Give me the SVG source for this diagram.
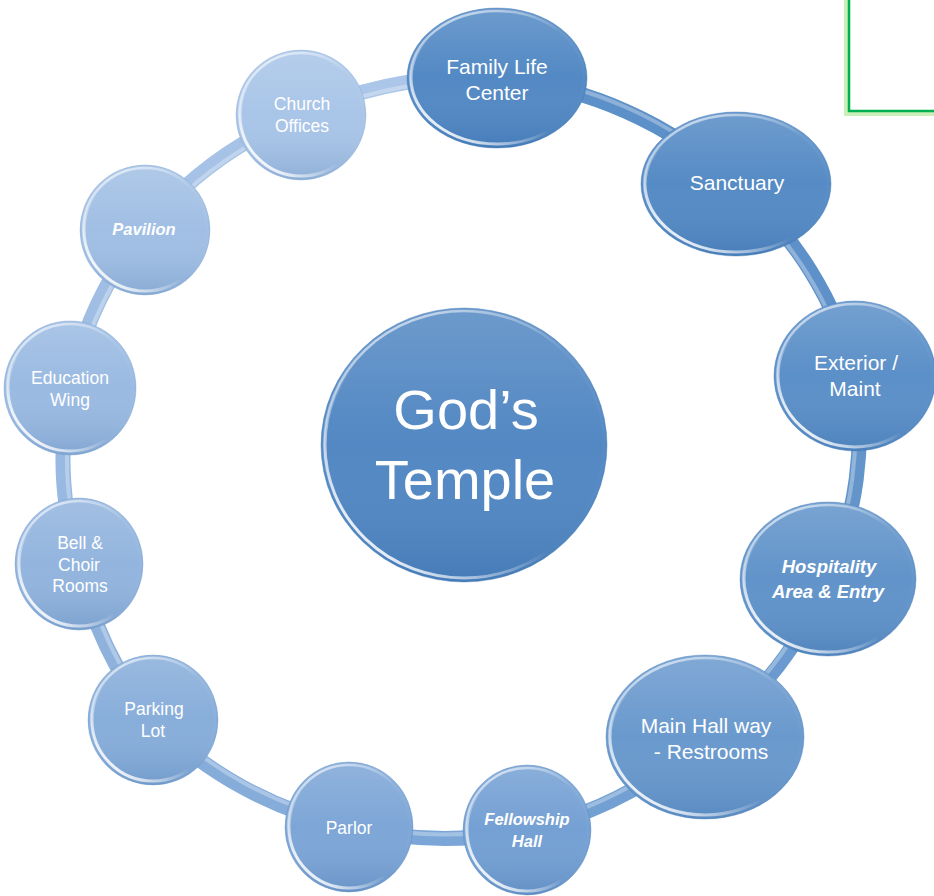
<svg xmlns="http://www.w3.org/2000/svg" width="934" height="896" viewBox="0 0 934 896">
<defs>
<linearGradient id="shade" x1="0" y1="0" x2="0" y2="1">
<stop offset="0" stop-color="#ffffff" stop-opacity="0.18"/>
<stop offset="0.5" stop-color="#ffffff" stop-opacity="0.03"/>
<stop offset="1" stop-color="#1d4f8a" stop-opacity="0.18"/>
</linearGradient>
<linearGradient id="rim" x1="0.2" y1="0" x2="0.8" y2="1">
<stop offset="0" stop-color="#ffffff" stop-opacity="0.7"/>
<stop offset="0.4" stop-color="#ffffff" stop-opacity="0.05"/>
<stop offset="1" stop-color="#ffffff" stop-opacity="0"/>
</linearGradient>
<linearGradient id="rim2" x1="1" y1="0" x2="0" y2="1">
<stop offset="0" stop-color="#ffffff" stop-opacity="0"/>
<stop offset="0.55" stop-color="#ffffff" stop-opacity="0"/>
<stop offset="0.85" stop-color="#ffffff" stop-opacity="0.85"/>
<stop offset="1" stop-color="#ffffff" stop-opacity="0.2"/>
</linearGradient>
</defs>
<style>
.lbl{font-family:"Liberation Sans",Arial,sans-serif;fill:#ffffff;text-anchor:middle}
.big{font-size:21px}
.sm{font-size:17.5px}
.bi{font-weight:bold;font-style:italic}
.ctr{font-size:56px}
.shade{fill:url(#shade)}
.rim{fill:none;stroke:url(#rim);stroke-width:2.5}
.rim2{fill:none;stroke:url(#rim2);stroke-width:3}
.edge{fill:none;stroke-opacity:0.4;stroke-width:1}
.con{fill:none;stroke-width:15;stroke-linecap:butt}
.hi{fill:none;stroke:#ffffff;stroke-opacity:0.3;stroke-width:4}
</style>

<g id="frame">
<rect x="849" y="-20" width="120" height="131" fill="none" stroke="#a6e48a" stroke-opacity="0.6" stroke-width="10"/>
<rect x="849" y="-20" width="120" height="131" fill="#ffffff" stroke="#00b050" stroke-width="2.5"/>
</g>

<g id="connectors">
<path class="con" stroke="#5c90c8" d="M497,78 A393,376 0 0 1 736,184"/>
<path class="hi" d="M497,74 A393,376 0 0 1 736,180"/>
<path class="con" stroke="#5e91c9" d="M736,184 A393,376 0 0 1 855,376"/>
<path class="hi" d="M732,186 A393,376 0 0 1 851,376"/>
<path class="con" stroke="#6395cb" d="M855,376 A393,376 0 0 1 828,579"/>
<path class="hi" d="M851,376 A393,376 0 0 1 824,579"/>
<path class="con" stroke="#6a9acf" d="M828,579 A393,376 0 0 1 705,738"/>
<path class="hi" d="M824,577 A393,376 0 0 1 702,735"/>
<path class="con" stroke="#73a0d3" d="M705,738 A393,376 0 0 1 527,830"/>
<path class="hi" d="M703,734 A393,376 0 0 1 527,826"/>
<path class="con" stroke="#7ca6d7" d="M527,830 A393,376 0 0 1 349,827"/>
<path class="hi" d="M527,826 A393,376 0 0 1 349,823"/>
<path class="con" stroke="#86acda" d="M349,827 A393,376 0 0 1 153,720"/>
<path class="hi" d="M350,823 A393,376 0 0 1 156,717"/>
<path class="con" stroke="#8fb2dd" d="M153,720 A393,376 0 0 1 79,564"/>
<path class="hi" d="M156,718 A393,376 0 0 1 83,564"/>
<path class="con" stroke="#98b9e1" d="M79,564 A393,376 0 0 1 70,388"/>
<path class="hi" d="M83,564 A393,376 0 0 1 74,388"/>
<path class="con" stroke="#a0bee4" d="M70,388 A393,376 0 0 1 145,229"/>
<path class="hi" d="M74,388 A393,376 0 0 1 148,232"/>
<path class="con" stroke="#a6c2e6" d="M145,229 A393,376 0 0 1 301,115"/>
<path class="hi" d="M147,233 A393,376 0 0 1 302,119"/>
<path class="con" stroke="#abc6e8" d="M301,115 A393,376 0 0 1 497,78"/>
<path class="hi" d="M302,119 A393,376 0 0 1 497,82"/>
</g>

<g id="center">
<ellipse cx="464" cy="445" rx="143" ry="137" fill="#4d84c1"/>
<ellipse cx="464" cy="445" rx="143" ry="137" class="shade"/>
<ellipse cx="464" cy="445" rx="140" ry="134" class="rim"/>
<ellipse cx="464" cy="445" rx="139" ry="133" class="rim2"/>
<ellipse cx="464" cy="445" rx="143" ry="137" class="edge" stroke="#3f78b6"/>
<text class="lbl ctr" x="466" y="429">God’s</text>
<text class="lbl ctr" x="465" y="499">Temple</text>
</g>

<g id="family-life-center">
<ellipse cx="497" cy="78" rx="90" ry="70" fill="#4d85c2"/>
<ellipse cx="497" cy="78" rx="90" ry="70" class="shade"/>
<ellipse cx="497" cy="78" rx="87" ry="67" class="rim"/>
<ellipse cx="497" cy="78" rx="86" ry="66" class="rim2"/>
<ellipse cx="497" cy="78" rx="90" ry="70" class="edge" stroke="#3f78b6"/>
<text class="lbl big" x="497" y="74">Family Life</text>
<text class="lbl big" x="497" y="100">Center</text>
</g>

<g id="sanctuary">
<ellipse cx="736" cy="184" rx="95" ry="72" fill="#5087c3"/>
<ellipse cx="736" cy="184" rx="95" ry="72" class="shade"/>
<ellipse cx="736" cy="184" rx="92" ry="69" class="rim"/>
<ellipse cx="736" cy="184" rx="91" ry="68" class="rim2"/>
<ellipse cx="736" cy="184" rx="95" ry="72" class="edge" stroke="#3f78b6"/>
<text class="lbl big" x="737" y="190">Sanctuary</text>
</g>

<g id="exterior-maint">
<ellipse cx="855" cy="376" rx="81" ry="75" fill="#568cc6"/>
<ellipse cx="855" cy="376" rx="81" ry="75" class="shade"/>
<ellipse cx="855" cy="376" rx="78" ry="72" class="rim"/>
<ellipse cx="855" cy="376" rx="77" ry="71" class="rim2"/>
<ellipse cx="855" cy="376" rx="81" ry="75" class="edge" stroke="#4079b7"/>
<text class="lbl big" x="856" y="370">Exterior /</text>
<text class="lbl big" x="855" y="396">Maint</text>
</g>

<g id="hospitality">
<ellipse cx="828" cy="579" rx="88" ry="77" fill="#5c90c8"/>
<ellipse cx="828" cy="579" rx="88" ry="77" class="shade"/>
<ellipse cx="828" cy="579" rx="85" ry="74" class="rim"/>
<ellipse cx="828" cy="579" rx="84" ry="73" class="rim2"/>
<ellipse cx="828" cy="579" rx="88" ry="77" class="edge" stroke="#457dba"/>
<text class="lbl bi" style="font-size:18.5px" x="829" y="573">Hospitality</text>
<text class="lbl bi" style="font-size:18.5px" x="828" y="598">Area &amp; Entry</text>
</g>

<g id="main-hall">
<ellipse cx="705" cy="737" rx="99" ry="82" fill="#6596cc"/>
<ellipse cx="705" cy="737" rx="99" ry="82" class="shade"/>
<ellipse cx="705" cy="737" rx="96" ry="79" class="rim"/>
<ellipse cx="705" cy="737" rx="95" ry="78" class="rim2"/>
<ellipse cx="705" cy="737" rx="99" ry="82" class="edge" stroke="#4b81bd"/>
<text class="lbl big" x="706" y="733">Main Hall way</text>
<text class="lbl big" x="711" y="759">- Restrooms</text>
</g>

<g id="fellowship-hall">
<ellipse cx="527" cy="830" rx="64" ry="65" fill="#709dd2"/>
<ellipse cx="527" cy="830" rx="64" ry="65" class="shade"/>
<ellipse cx="527" cy="830" rx="61" ry="62" class="rim"/>
<ellipse cx="527" cy="830" rx="60" ry="61" class="rim2"/>
<ellipse cx="527" cy="830" rx="64" ry="65" class="edge" stroke="#5387c1"/>
<text class="lbl bi" style="font-size:16.5px" x="527" y="825">Fellowship</text>
<text class="lbl bi" style="font-size:16.5px" x="527" y="847">Hall</text>
</g>

<g id="parlor">
<ellipse cx="349" cy="827" rx="64" ry="65" fill="#79a3d5"/>
<ellipse cx="349" cy="827" rx="64" ry="65" class="shade"/>
<ellipse cx="349" cy="827" rx="61" ry="62" class="rim"/>
<ellipse cx="349" cy="827" rx="60" ry="61" class="rim2"/>
<ellipse cx="349" cy="827" rx="64" ry="65" class="edge" stroke="#5a8cc4"/>
<text class="lbl sm" x="349" y="834">Parlor</text>
</g>

<g id="parking-lot">
<ellipse cx="153" cy="720" rx="65" ry="65" fill="#84abd9"/>
<ellipse cx="153" cy="720" rx="65" ry="65" class="shade"/>
<ellipse cx="153" cy="720" rx="62" ry="62" class="rim"/>
<ellipse cx="153" cy="720" rx="61" ry="61" class="rim2"/>
<ellipse cx="153" cy="720" rx="65" ry="65" class="edge" stroke="#6593c8"/>
<text class="lbl sm" x="154" y="715">Parking</text>
<text class="lbl sm" x="153" y="737">Lot</text>
</g>

<g id="bell-choir">
<ellipse cx="79" cy="564" rx="64" ry="66" fill="#8fb2dd"/>
<ellipse cx="79" cy="564" rx="64" ry="66" class="shade"/>
<ellipse cx="79" cy="564" rx="61" ry="63" class="rim"/>
<ellipse cx="79" cy="564" rx="60" ry="62" class="rim2"/>
<ellipse cx="79" cy="564" rx="64" ry="66" class="edge" stroke="#6e99cc"/>
<text class="lbl sm" x="80" y="549">Bell &amp;</text>
<text class="lbl sm" x="79" y="571">Choir</text>
<text class="lbl sm" x="80" y="592">Rooms</text>
</g>

<g id="education-wing">
<ellipse cx="70" cy="388" rx="66" ry="67" fill="#97b8e1"/>
<ellipse cx="70" cy="388" rx="66" ry="67" class="shade"/>
<ellipse cx="70" cy="388" rx="63" ry="64" class="rim"/>
<ellipse cx="70" cy="388" rx="62" ry="63" class="rim2"/>
<ellipse cx="70" cy="388" rx="66" ry="67" class="edge" stroke="#769fd0"/>
<text class="lbl sm" x="70" y="384">Education</text>
<text class="lbl sm" x="70" y="406">Wing</text>
</g>

<g id="pavilion">
<ellipse cx="145" cy="230" rx="65" ry="65" fill="#9ebde3"/>
<ellipse cx="145" cy="230" rx="65" ry="65" class="shade"/>
<ellipse cx="145" cy="230" rx="62" ry="62" class="rim"/>
<ellipse cx="145" cy="230" rx="61" ry="61" class="rim2"/>
<ellipse cx="145" cy="230" rx="65" ry="65" class="edge" stroke="#7ea5d3"/>
<text class="lbl bi" style="font-size:16.5px" x="144" y="235">Pavilion</text>
</g>

<g id="church-offices">
<ellipse cx="301" cy="115" rx="65" ry="65" fill="#a6c3e7"/>
<ellipse cx="301" cy="115" rx="65" ry="65" class="shade"/>
<ellipse cx="301" cy="115" rx="62" ry="62" class="rim"/>
<ellipse cx="301" cy="115" rx="61" ry="61" class="rim2"/>
<ellipse cx="301" cy="115" rx="65" ry="65" class="edge" stroke="#86abd7"/>
<text class="lbl sm" x="302" y="110">Church</text>
<text class="lbl sm" x="302" y="132">Offices</text>
</g>
</svg>
